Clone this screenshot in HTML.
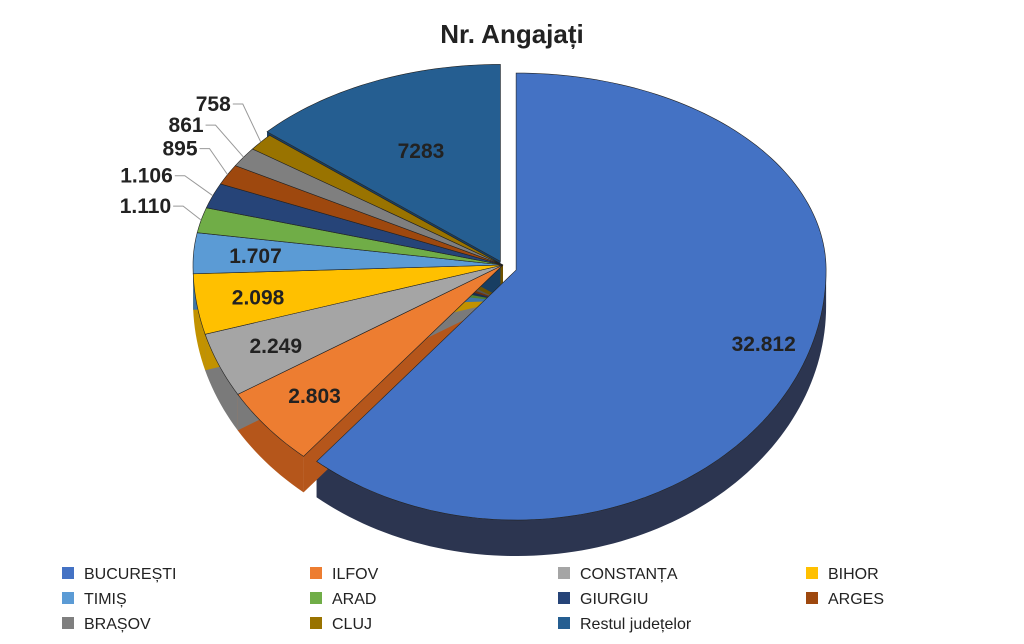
<!DOCTYPE html>
<html><head><meta charset="utf-8">
<style>
body{margin:0;background:#fff;width:1024px;height:644px;overflow:hidden;font-family:"Liberation Sans",sans-serif}
svg{display:block}
.lab{font-weight:bold;font-size:21px;fill:#222}
.leg{font-size:16px;fill:#222}
</style></head>
<body>
<svg id="chart" width="1024" height="644" viewBox="0 0 1024 644">
<text x="512" y="43" text-anchor="middle" font-size="26" font-weight="bold" fill="#222">Nr. Angajați</text>
<g id="sides"></g><g id="tops"></g><g id="labels"></g><g id="legend"></g>
</svg>
<script>
const categories=["BUCUREȘTI","ILFOV","CONSTANȚA","BIHOR","TIMIȘ","ARAD","GIURGIU","ARGES","BRAȘOV","CLUJ","Restul județelor"];
const values=[32812,2803,2249,2098,1707,1110,1106,895,861,758,7283];
const valueLabels=["32.812","2.803","2.249","2.098","1.707","1.110","1.106","895","861","758","7283"];
const colors=["#4472C4","#ED7D31","#A5A5A5","#FFC000","#5B9BD5","#70AD47","#264478","#9E480E","#7f7f7f","#997300","#255E91"];
const sideColors=["#2c3550","#b5561b","#7a7a7a","#c29200","#3f75a5","#4f8030","#182c50","#6e300a","#555","#6e5200","#183e62"];
const NS="http://www.w3.org/2000/svg";
const cx=503,cy=265,rx=310,ryT=197,ryB=250,depth=36;
const total=values.reduce((a,b)=>a+b,0);
function pt(c,th,r){const a=th*Math.PI/180;const co=Math.cos(a);return[c[0]+rx*r*Math.sin(a),c[1]-(co>0?ryT:ryB)*r*co];}
function mk(tag,attrs,parent){const e=document.createElementNS(NS,tag);for(const k in attrs)e.setAttribute(k,attrs[k]);parent.appendChild(e);return e;}
const sides=document.getElementById('sides'),tops=document.getElementById('tops'),labs=document.getElementById('labels'),leg=document.getElementById('legend');
let start=0;const slices=[];
values.forEach((v,i)=>{const sweep=v/total*360;const mid=start+sweep/2;
 let ex=0;if(i===0)ex=0.045;if(i===values.length-1)ex=0.02;
 const a=mid*Math.PI/180;const c=[cx+rx*ex*Math.sin(a),cy-ryT*ex*Math.cos(a)+(i===0?2:0)];
 slices.push({i,s:start,e:start+sweep,mid,c});start+=sweep;});
function arcPts(c,a0,a1,dy){const p=[];const n=Math.max(2,Math.ceil((a1-a0)/1.5));for(let k=0;k<=n;k++){const q=pt(c,a0+(a1-a0)*k/n,1);p.push([q[0],q[1]+dy]);}return p;}
slices.forEach(s=>{const c=s.c;
 [s.s,s.e].forEach(th=>{const p=pt(c,th,1);
  const w=mk('polygon',{points:`${c[0]},${c[1]} ${p[0]},${p[1]} ${p[0]},${p[1]+depth} ${c[0]},${c[1]+depth}`,fill:sideColors[s.i]},sides);
  
  });
 const a0=Math.max(s.s,90),a1=Math.min(s.e,270);
 if(a1>a0){const top=arcPts(c,a0,a1,0),bot=arcPts(c,a0,a1,depth).reverse();
  const o=mk('polygon',{points:top.concat(bot).map(p=>p.join(',')).join(' '),fill:sideColors[s.i]},sides);
  
  }
});
slices.forEach(s=>{const c=s.c;const p=arcPts(c,s.s,s.e,0);
 const path=mk('polygon',{points:[c].concat(p).map(q=>q.join(',')).join(' '),fill:colors[s.i],stroke:'#222','stroke-width':0.6},tops);
 
 
 const frac=values[s.i]/total;let tx,ty,anchor='middle';
 if(frac>0.025){const r=s.i===0?0.85:(s.i===values.length-1?0.62:0.8);const q=pt(c,s.mid,r);tx=q[0];ty=q[1]+8;}
 else{const k=s.i-5;const p1=pt(c,s.mid,1.0);const lx=p1[0]-18-(k%2)*10,ly=p1[1]-14-k*6;
  const ln=mk('polyline',{points:`${p1[0]},${p1[1]} ${lx},${ly} ${lx-10},${ly}`,fill:'none',stroke:'#999','stroke-width':1},labs);
  
  
  tx=lx-12;ty=ly+7;anchor='end';}
 const t=mk('text',{x:tx,y:ty,'text-anchor':anchor,class:'lab'},labs);t.textContent=valueLabels[s.i];
 
 
});
categories.forEach((n,i)=>{const col=i%4,row=Math.floor(i/4);const x=62+col*248,y=573+row*25;
 const r=mk('rect',{x:x,y:y-6,width:12,height:12,fill:colors[i]},leg);
 
 
 const t=mk('text',{x:x+22,y:y+6,class:'leg'},leg);t.textContent=n;
 
 });
</script>
</body></html>
